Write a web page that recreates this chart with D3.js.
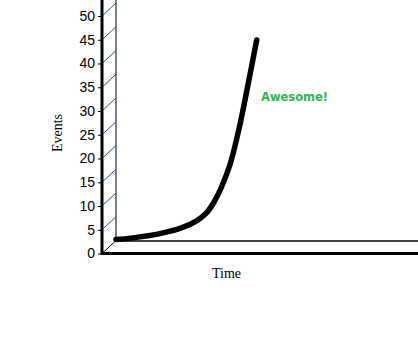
<!DOCTYPE html>
<html>
<head>
<meta charset="utf-8">
<script src="https://cdn.jsdelivr.net/npm/d3@7"></script>
<style>
  body { margin: 0; background: #fff; }
</style>
</head>
<body>
<div id="chart"></div>
<script>
// data
var times  = [0, 5, 15, 22, 27, 30, 32.5, 35, 38, 41, 43.6, 46.9];
var events = [0.2, 0.5, 1.5, 2.7, 4.2, 5.7, 7.9, 11.0, 16.0, 23.5, 31.5, 42.2];
var yTicks = [0, 5, 10, 15, 20, 25, 30, 35, 40, 45, 50];
var xLabel = "Time", yLabel = "Events", note = "Awesome!";

var width = 418, height = 346;
var origin = {x: 102, y: 253.5};
var depth = {dx: 14, dy: -13};

var svg = d3.select("#chart").append("svg")
    .attr("width", width)
    .attr("height", height)
    .style("display", "block");

var x = d3.scaleLinear().domain([0, 100]).range([origin.x, origin.x + 300]);
var y = d3.scaleLinear().domain([0, 55]).range([origin.y, origin.y - 261.25]);

// back wall / floor lines
svg.append("line")
    .attr("x1", origin.x + depth.dx).attr("x2", origin.x + depth.dx)
    .attr("y1", y(0) + depth.dy).attr("y2", 0)
    .attr("stroke", "#000").attr("stroke-width", 1);
svg.append("line")
    .attr("x1", origin.x + depth.dx).attr("x2", width)
    .attr("y1", y(0) + depth.dy + 0.5).attr("y2", y(0) + depth.dy + 0.5)
    .attr("stroke", "#000").attr("stroke-width", 1.5);

// diagonal gridlines going back from each tick
svg.append("g").selectAll("line")
    .data(yTicks)
    .join("line")
    .attr("x1", origin.x)
    .attr("y1", d => y(d))
    .attr("x2", origin.x + depth.dx)
    .attr("y2", d => y(d) + depth.dy)
    .attr("stroke", d => d === 0 ? "#000" : "#1d5a9a")
    .attr("stroke-width", 1);

// y axis
var yAxis = svg.append("g")
    .attr("transform", "translate(" + origin.x + ",0)")
    .call(d3.axisLeft(y).tickValues(yTicks).tickSize(4).tickPadding(3));
yAxis.select(".domain").remove();
yAxis.selectAll("line").attr("stroke", "#000");
yAxis.selectAll("text")
    .attr("font-family", "Liberation Sans, Arial, sans-serif")
    .attr("font-size", 14)
    .attr("fill", "#000");

// front axis lines
svg.append("line")
    .attr("x1", origin.x).attr("x2", origin.x)
    .attr("y1", 0).attr("y2", origin.y + 1.5)
    .attr("stroke", "#000").attr("stroke-width", 3);
svg.append("line")
    .attr("x1", origin.x).attr("x2", width)
    .attr("y1", origin.y).attr("y2", origin.y)
    .attr("stroke", "#000").attr("stroke-width", 3);

// the series sits on the back plane
var line = d3.line()
    .x((d, i) => x(times[i]) + depth.dx)
    .y(d => y(d) + depth.dy)
    .curve(d3.curveCatmullRom.alpha(0.5));

svg.append("path")
    .datum(events)
    .attr("fill", "none")
    .attr("stroke", "#000")
    .attr("stroke-width", 5.5)
    .attr("stroke-linecap", "round")
    .attr("stroke-linejoin", "round")
    .attr("d", line);

svg.append("text")
    .attr("x", 261)
    .attr("y", 101)
    .attr("font-family", "DejaVu Sans, Verdana, sans-serif")
    .attr("font-weight", "bold")
    .attr("font-size", 11.5)
    .attr("fill", "#2db84c")
    .text(note);

// axis titles
svg.append("text")
    .attr("x", 226.5)
    .attr("y", 277.5)
    .attr("text-anchor", "middle")
    .attr("font-family", "Liberation Serif, Times New Roman, serif")
    .attr("font-size", 14)
    .text(xLabel);

svg.append("text")
    .attr("transform", "translate(61.5,133) rotate(-90)")
    .attr("text-anchor", "middle")
    .attr("font-family", "Liberation Serif, Times New Roman, serif")
    .attr("font-size", 14)
    .text(yLabel);
</script>
</body>
</html>
